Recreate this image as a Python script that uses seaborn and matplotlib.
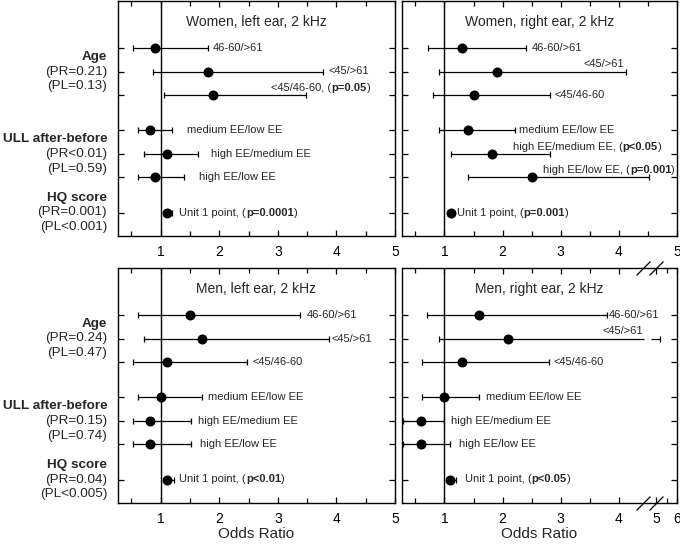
import matplotlib.pyplot as plt
import numpy as np
import pandas as pd
import seaborn as sns

# contrasts shown in every panel (age: 3 rows, ULL: 3 rows, HQ: 1 row)
contrasts = ["46-60/>61", "<45/>61", "<45/46-60",
             "medium EE/low EE", "high EE/medium EE", "high EE/low EE",
             "Unit 1 point"]
group_names = ["Age", "ULL after-before", "HQ score"]

women_left_or = [0.90, 1.80, 1.90, 0.81, 1.10, 0.90, 1.11]
women_left_lo = [0.52, 0.86, 1.06, 0.61, 0.71, 0.61, 1.05]
women_left_hi = [1.80, 3.77, 3.48, 1.20, 1.64, 1.40, 1.20]
women_left_p = [None, None, "p=0.05", None, None, None, "p=0.0001"]

women_right_or = [1.31, 1.91, 1.51, 1.40, 1.81, 2.51, 1.11]
women_right_lo = [0.71, 0.91, 0.81, 0.91, 1.11, 1.41, 1.06]
women_right_hi = [2.41, 4.12, 2.81, 2.21, 2.81, 4.52, 1.15]
women_right_p = [None, None, None, None, "p<0.05", "p=0.001", "p=0.001"]

men_left_or = [1.50, 1.70, 1.10, 1.00, 0.81, 0.81, 1.10]
men_left_lo = [0.61, 0.71, 0.52, 0.61, 0.52, 0.52, 1.05]
men_left_hi = [3.38, 3.87, 2.47, 1.70, 1.52, 1.52, 1.22]
men_left_p = [None, None, None, None, None, None, "p<0.01"]

men_right_or = [1.60, 2.09, 1.31, 1.00, 0.60, 0.60, 1.10]
men_right_lo = [0.70, 0.91, 0.61, 0.61, 0.29, 0.29, 1.05]
men_right_hi = [3.79, 5.20, 2.79, 1.60, 1.00, 1.10, 1.20]
men_right_p = [None, None, None, None, None, None, "p<0.05"]

women_pr = ["PR=0.21", "PR<0.01", "PR=0.001"]
women_pl = ["PL=0.13", "PL=0.59", "PL<0.001"]
men_pr = ["PR=0.24", "PR=0.15", "PR=0.04"]
men_pl = ["PL=0.47", "PL=0.74", "PL<0.005"]

# layout: row positions, label anchors (left edge, data x) and labels drawn above the line
ROW_Y = [1, 2, 3, 4.5, 5.5, 6.5, 8]
GROUP_Y = [2, 5.5, 8]
LABEL_X = {
    "wl": [1.89, 3.87, 2.89, 1.44, 1.86, 1.65, 1.32],
    "wr": [2.51, 3.39, 2.89, 2.28, 2.18, 2.70, 1.21],
    "ml": [3.49, 3.92, 2.57, 1.80, 1.63, 1.67, 1.32],
    "mr": [3.83, 3.71, 2.88, 1.72, 1.12, 1.25, 1.35],
}
LABEL_ABOVE = {
    "wl": [2],
    "wr": [1, 4, 5],
    "ml": [],
    "mr": [1],
}

# broken x axis of the last panel: identity up to 4.44, compressed after the gap
BREAK_LO, BREAK_HI = 4.44, 4.75
SRC = [-10, BREAK_LO, BREAK_HI, 6, 20]
DST = [-10, BREAK_LO, 4.556, 5.0, 9.97]


def fwd(x):
    return np.interp(x, SRC, DST)


def inv(x):
    return np.interp(x, DST, SRC)


sns.set_style("ticks")
plt.rcParams["font.family"] = ["Liberation Sans", "DejaVu Sans"]
plt.rcParams.update({
    "xtick.direction": "in", "ytick.direction": "in",
    "xtick.top": True, "ytick.right": True,
    "axes.linewidth": 1.0, "axes.edgecolor": "black",
    "xtick.color": "black", "ytick.color": "black",
})

fig = plt.figure(figsize=(6.8, 5.46), dpi=100)
L, WL = 118 / 680, 277 / 680
R, WR = 402 / 680, 275 / 680
H = 235 / 546
ax_wl = fig.add_axes([L, 310 / 546, WL, H])
ax_wr = fig.add_axes([R, 310 / 546, WR, H])
ax_ml = fig.add_axes([L, 43 / 546, WL, H])
ax_mr = fig.add_axes([R, 43 / 546, WR, H])

panels = [
    (ax_wl, "wl", "Women, left ear, 2 kHz", women_left_or, women_left_lo, women_left_hi, women_left_p, women_pr, women_pl),
    (ax_wr, "wr", "Women, right ear, 2 kHz", women_right_or, women_right_lo, women_right_hi, women_right_p, None, None),
    (ax_ml, "ml", "Men, left ear, 2 kHz", men_left_or, men_left_lo, men_left_hi, men_left_p, men_pr, men_pl),
    (ax_mr, "mr", "Men, right ear, 2 kHz", men_right_or, men_right_lo, men_right_hi, men_right_p, None, None),
]

FS_NOTE = 8
FS_SIDE = 9.7
LW = 0.9

for ax, key, title, ors, los, his, ps, prs, pls in panels:
    df = pd.DataFrame({"contrast": contrasts, "OR": ors, "lo": los, "hi": his, "y": ROW_Y})

    if key == "mr":
        ax.set_xscale("function", functions=(fwd, inv))

    ax.axvline(1, color="black", lw=1.0, zorder=1)

    # confidence intervals with caps (split where they cross the axis break)
    for _, r in df.iterrows():
        if key == "mr" and r["hi"] > BREAK_HI:
            segs = [(r["lo"], BREAK_LO), (BREAK_HI, r["hi"])]
        else:
            segs = [(r["lo"], r["hi"])]
        for a, b in segs:
            ax.hlines(r["y"], a, b, color="black", lw=LW, zorder=2)
        ax.plot([r["lo"], r["hi"]], [r["y"], r["y"]], linestyle="none", marker="|",
                markersize=4.5, mew=LW, color="black", zorder=2)

    sns.scatterplot(data=df, x="OR", y="y", ax=ax, color="black", s=52,
                    edgecolor="black", linewidth=0, zorder=3, legend=False)

    # contrast labels, with bold p-values
    for i, r in df.iterrows():
        dy = -0.3 if i in LABEL_ABOVE[key] else 0.0
        x0 = LABEL_X[key][i]
        if ps[i] is None:
            ax.text(x0, r["y"] + dy, r["contrast"], fontsize=FS_NOTE, va="center", ha="left")
        else:
            t1 = ax.text(x0, r["y"] + dy, r["contrast"] + ", (", fontsize=FS_NOTE,
                         va="center", ha="left")
            t2 = ax.annotate(ps[i], xy=(1, 0), xycoords=t1, fontsize=FS_NOTE,
                             fontweight="bold", va="bottom", ha="left")
            ax.annotate(")", xy=(1, 0), xycoords=t2, fontsize=FS_NOTE, va="bottom", ha="left")

    ax.text(0.5, -0.12, title, transform=ax.get_yaxis_transform(), fontsize=10,
            ha="center", va="center")

    # group labels on the left
    if prs is not None:
        tr = ax.get_yaxis_transform()
        for gy, name, pr, pl in zip(GROUP_Y, group_names, prs, pls):
            ax.text(-0.039, gy - 0.63, name, transform=tr, fontsize=FS_SIDE,
                    fontweight="bold", ha="right", va="center")
            ax.text(-0.039, gy, f"({pr})", transform=tr, fontsize=FS_SIDE, ha="right", va="center")
            ax.text(-0.039, gy + 0.63, f"({pl})", transform=tr, fontsize=FS_SIDE, ha="right", va="center")

    ax.set_ylim(9, -1)
    ax.set_yticks(ROW_Y)
    ax.set_yticklabels([])
    ax.set_ylabel("")
    ax.tick_params(axis="y", length=4.5, width=0.9)

    if key == "mr":
        ax.set_xlim(0.27, 6)
        ax.set_xticks([1, 2, 3, 4, 5, 6], ["1", "2", "3", "4", "5", "6"])
        ax.set_xticks([0.5, 1.5, 2.5, 3.5, 5.5], minor=True)
        # break marks on top and bottom spines
        for yy in (0, 1):
            ax.plot([0.876, 0.922], [yy, yy], transform=ax.transAxes, linestyle="none",
                    marker=[(-1, -1), (1, 1)], markersize=10, mew=0.9, color="black",
                    clip_on=False, zorder=5)
    else:
        ax.set_xlim(0.27, 5)
        ax.set_xticks([1, 2, 3, 4, 5], ["1", "2", "3", "4", "5"])
        ax.set_xticks([0.5, 1.5, 2.5, 3.5, 4.5], minor=True)
    ax.tick_params(axis="x", which="major", length=4.5, width=0.9, labelsize=10, pad=6.5)
    ax.tick_params(axis="x", which="minor", length=3.5, width=0.9, top=True)

    if key in ("ml", "mr"):
        ax.set_xlabel("Odds Ratio", fontsize=11, labelpad=1)
    else:
        ax.set_xlabel("")

fig.savefig("out.png", dpi=100)
